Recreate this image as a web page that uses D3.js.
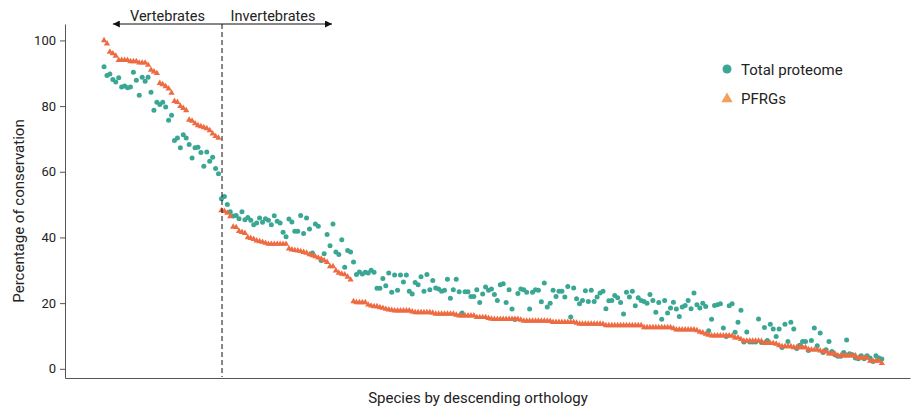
<!DOCTYPE html>
<html>
<head>
<meta charset="utf-8">
<script src="https://cdn.jsdelivr.net/npm/d3@7/dist/d3.min.js"></script>
<style>
  html, body { margin: 0; padding: 0; background: #fff; }
  svg { display: block; font-family: Roboto, "Noto Sans", sans-serif; }
</style>
</head>
<body>
<svg id="chart" width="912" height="409"></svg>
<script>
// ---------------- DATA ----------------
const vertebrateCount = 40;
const seriesNames = ["Total proteome", "PFRGs"];
const yTickValues = [0, 20, 40, 60, 80, 100];
const xTitle = "Species by descending orthology";
const yTitle = "Percentage of conservation";
const groupLabels = ["Vertebrates", "Invertebrates"];

// Total proteome (% conservation), species ordered by descending PFRG orthology
const totalProteome = [
  92, 89.3, 89.8, 88.1, 87.3, 88.6, 85.8, 86.1, 85.6, 85.8,
  90.3, 87.9, 83.3, 88.8, 87.6, 88.8, 84.2, 78.7, 81.2, 80.5,
  81.2, 79.7, 75.7, 77.2, 69.5, 70.3, 67.3, 71.3, 70.3, 68.3,
  64.2, 67.3, 67.5, 65.9, 61.7, 66, 63.2, 64.4, 61, 59.4,
  51.8, 52.5, 50, 47.8, 46.5, 46.7, 45.7, 47.8, 45.4, 46.1,
  45.2, 43.9, 44.4, 45.9, 44.6, 45.7, 45.2, 43.9, 46.6, 44.9,
  44.4, 41.6, 40.2, 45.6, 44.7, 41.9, 41.9, 46.7, 41.2, 45.9,
  42.6, 35.3, 44.1, 43.4, 33, 35, 40.9, 37.5, 44.1, 35.6,
  34.8, 39.3, 30.9, 36, 35.6, 32.5, 28.7,
  29.5, 28.9, 29.4, 29.2, 30, 29.4, 24.5, 24.5, 27.5, 25.3,
  29.2, 23.3, 28.6, 23.9, 28.6, 26.4, 28.6, 23.6, 22.8, 26.3,
  25.6, 28, 23.6, 28.7, 24.1, 26.9, 24.6, 24.3, 23.6, 23.9,
  27.3, 21.5, 24.1, 27.3, 23.5, 17, 23.5, 23.5, 22, 22,
  24.1, 20.2, 22.8, 24.9, 23.9, 24.3, 22.6, 20.8,
  25.6, 25.9, 20.2, 24.1, 18.2, 15.0, 22.9, 24.3, 24.1, 23.3,
  18.2, 23.3, 24.1, 23.9, 20.4, 26.1, 18.8, 20, 23.9, 22,
  23.6, 23.6, 21.9, 25.1, 15.8, 24.6, 21.3, 19.8, 20.8, 23.8,
  20.5, 23.9, 20.5, 21.9, 23.1, 23.6, 18.3, 20.7, 20.8, 22.3,
  21.6, 20.2, 16.7, 23.3, 21.9, 23.6, 19.2, 21.6, 20.8,
  20.5, 20, 22.6, 20.8, 17.2, 20.2, 15.1, 20.8, 17, 18.5,
  20.3, 18.2, 15.9, 18.8, 19.3, 20.8, 18.3, 23.1, 19.5, 18.5,
  20, 19, 11.6, 15.1, 19.3, 19.5, 19.8, 12.4,
  9.8, 19.2, 19.8, 11.1, 14.2, 17.8, 8.2, 11.2, 8.2, 8.2,
  8.2, 15.2, 8.0, 12.6, 8.6, 13.6, 12.1, 9.8, 12.1, 6.5,
  13.6, 8.3, 14.2, 12.1, 6.2, 7.2, 8.3, 8.3, 5.6, 8.6,
  12.4, 7, 10.9, 5.0, 5.8, 8.3, 5.3, 4.3, 3.8, 3.8,
  5, 8.8, 4.6, 4.3, 3.3, 3.1, 4, 3.1, 4, 3.3,
  2.2, 4, 3.3, 3
];

// PFRGs (% conservation)
const pfrgs = [
  100, 99, 96.5, 96, 95.3, 94, 94, 94, 94, 93.6,
  93.6, 93.6, 93.2, 93.2, 93.2, 92.5, 91, 90.5, 90, 87,
  86.6, 86, 85.3, 84, 81.5, 81.2, 80, 79.4, 78.7, 75.8,
  75.5, 74.7, 74.1, 73.8, 73.5, 73.2, 72.6, 71.6, 70.8, 70.3,
  48.2, 48, 47.5, 46.4, 43.2, 43.1, 41.9, 41.6, 41.3, 40,
  39.8, 39.5, 39, 38.8, 38.6, 38.3, 38, 38, 38, 38,
  38, 38, 38, 36.6, 36.3, 36.1, 36, 35.8, 35.5, 35.3,
  34.8, 34.5, 34.2, 33.8, 33.5, 33, 32.5, 31.2, 31.2, 29.9,
  29.2, 28.9, 28.7, 28, 27.1,
  20.5, 20.2, 20.2, 20.2, 20.2, 19.5, 19.2, 19, 19, 18.7,
  18.5, 18.2, 18, 17.9, 17.7, 17.7, 17.7, 17.7, 17.7, 17.7,
  17.4, 17.2, 17.2, 17.2, 17.2, 17.2, 17.2, 17.0, 16.7, 16.7,
  16.7, 16.7, 16.7, 16.7, 16.7, 16.4, 16.2, 16.2, 16.2, 16.2,
  16.2, 16.2, 15.7, 15.7, 15.7, 15.7, 15.4, 15.2, 15.1, 15.1,
  15.1, 15.1, 15.1, 15.1, 15.1, 15.1, 15.1, 14.9, 14.6, 14.6,
  14.6, 14.6, 14.6, 14.6, 14.6, 14.6, 14.6, 14.5, 14.2, 14.2,
  14.2, 14.2, 14.2, 14.2, 14.2, 14.2, 14.0, 13.7, 13.7, 13.7,
  13.7, 13.7, 13.7, 13.7, 13.7, 13.6, 13.2, 13.2, 13.2, 13.2,
  13.2, 13.2, 13.2, 13.2, 13.2, 13.2, 13.2, 13.2, 13.2,
  12.6, 12.6, 12.6, 12.6, 12.6, 12.6, 12.6, 12.6, 12.6, 12.6,
  12.3, 11.9, 11.9, 11.9, 11.9, 11.9, 11.9, 11.9, 11.7, 11.2,
  11.0, 10.6, 10.3, 10.1, 10.1, 10.1, 10.1, 10.1, 10.1, 10.1,
  10.0, 9.5, 9.5, 9.0, 8.5, 8.5, 8.5, 8.5, 8.5, 8.5,
  8.4, 7.8, 7.8, 7.8, 7.8, 7.6, 7.1, 6.8, 6.8, 6.8,
  6.8, 6.5, 6.5, 6.5, 6.5, 6.5, 5.9, 5.8, 5.8, 5.8,
  5.5, 5.3, 5.2, 4.6, 4.6, 4.6, 4.0, 4.0, 4.0, 4.0,
  4.0, 4.0, 4.0, 3.3, 3.3, 3.3, 3.3, 2.4, 2.4, 2.4,
  2.4, 1.7
];

// ---------------- CHART ----------------
const colors = {
  total: "#3aa794",
  pfrg: "#ee6b42",
  pfrgLegend: "#f4a05a",
  axis: "#555",
  text: "#222"
};

const svg = d3.select("#chart");

const x = d3.scaleLinear().domain([-13.3, 274.6]).range([65, 910]);
const y = d3.scaleLinear().domain([-2.8, 105]).range([378, 24]);

// axes
const yAxis = d3.axisLeft(y).tickValues(yTickValues).tickSize(5).tickSizeOuter(0).tickPadding(4);
const gy = svg.append("g").attr("transform", `translate(${x.range()[0]},0)`).call(yAxis);
gy.select(".domain").attr("stroke", colors.axis);
gy.selectAll(".tick line").attr("stroke", colors.axis);
gy.selectAll(".tick text").attr("fill", colors.text).style("font-size", "13px").style("font-family", "Roboto, sans-serif");

const xAxis = d3.axisBottom(x).tickValues([]).tickSizeOuter(0);
const gx = svg.append("g").attr("transform", `translate(0,${y.range()[0]})`).call(xAxis);
gx.select(".domain").attr("stroke", colors.axis);

// axis titles
svg.append("text")
  .attr("x", 478)
  .attr("y", 403)
  .attr("text-anchor", "middle")
  .attr("fill", colors.text)
  .style("font-size", "15px")
  .text(xTitle);

svg.append("text")
  .attr("transform", `translate(24,${(y.range()[0] + y.range()[1]) / 2 + 10}) rotate(-90)`)
  .attr("text-anchor", "middle")
  .attr("fill", colors.text)
  .style("font-size", "15px")
  .text(yTitle);

// data points
const total = totalProteome.map((v, i) => ({ i, v }));
const pf = pfrgs.map((v, i) => ({ i, v }));

svg.append("g").selectAll("circle").data(total).join("circle")
  .attr("cx", d => x(d.i))
  .attr("cy", d => y(d.v))
  .attr("r", 2.5)
  .attr("fill", colors.total);

const tri = d3.symbol().type(d3.symbolTriangle).size(17);
svg.append("g").selectAll("path").data(pf).join("path")
  .attr("d", tri)
  .attr("transform", d => `translate(${x(d.i)},${y(d.v)})`)
  .attr("fill", colors.pfrg);

// vertebrate / invertebrate divider
const bx = x(vertebrateCount + 0.2);
svg.append("line")
  .attr("x1", bx).attr("x2", bx)
  .attr("y1", 24).attr("y2", y.range()[0] - 1)
  .attr("stroke", "#111")
  .attr("stroke-width", 1)
  .attr("stroke-dasharray", "5,3");

const defs = svg.append("defs");
defs.append("marker")
  .attr("id", "arrowEnd")
  .attr("viewBox", "0 0 10 10")
  .attr("refX", 10).attr("refY", 5)
  .attr("markerWidth", 7).attr("markerHeight", 7)
  .attr("markerUnits", "userSpaceOnUse")
  .attr("orient", "auto-start-reverse")
  .append("path").attr("d", "M0,0 L10,5 L0,10 Z").attr("fill", "#111");

const arrowY = 24;
const leftTip = x(3);
const rightTip = bx + 110;
svg.append("line")
  .attr("x1", leftTip).attr("x2", rightTip)
  .attr("y1", arrowY).attr("y2", arrowY)
  .attr("stroke", "#111").attr("stroke-width", 1)
  .attr("marker-start", "url(#arrowEnd)")
  .attr("marker-end", "url(#arrowEnd)");

svg.append("text")
  .attr("x", (leftTip + bx) / 2)
  .attr("y", 20.5)
  .attr("text-anchor", "middle")
  .attr("fill", colors.text)
  .style("font-size", "14.5px")
  .text(groupLabels[0]);

svg.append("text")
  .attr("x", (bx + rightTip) / 2 - 4)
  .attr("y", 20.5)
  .attr("text-anchor", "middle")
  .attr("fill", colors.text)
  .style("font-size", "14.5px")
  .text(groupLabels[1]);

// legend
const lg = svg.append("g").attr("transform", "translate(727,0)");
lg.append("circle").attr("cx", 0).attr("cy", 69).attr("r", 4.5).attr("fill", colors.total);
lg.append("text").attr("x", 14).attr("y", 74.5).attr("fill", colors.text)
  .style("font-size", "15px").text(seriesNames[0]);
lg.append("path").attr("d", d3.symbol().type(d3.symbolTriangle).size(55))
  .attr("transform", "translate(0,99)").attr("fill", colors.pfrgLegend);
lg.append("text").attr("x", 14).attr("y", 104).attr("fill", colors.text)
  .style("font-size", "15px").text(seriesNames[1]);
</script>
</body>
</html>
